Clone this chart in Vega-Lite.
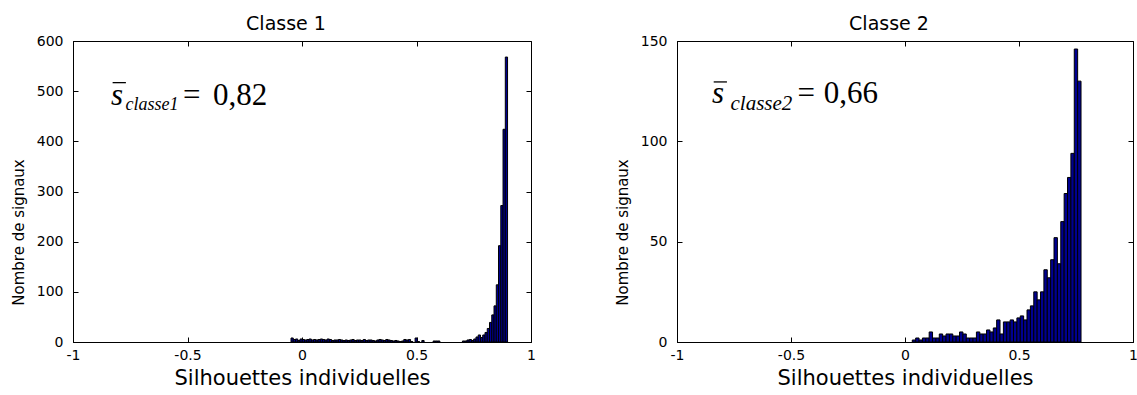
{
  "$schema": "https://vega.github.io/schema/vega-lite/v6.json",
  "background": "white",
  "padding": {"left": 10, "top": 14, "right": 0, "bottom": 0},
  "spacing": 78,
  "config": {
    "view": {"stroke": "#000", "strokeWidth": 1},
    "axis": {"grid": false, "domainColor": "#000", "tickColor": "#000", "labelColor": "#000", "titleColor": "#000", "labelFont": "DejaVu Sans", "labelFontSize": 14, "titleFont": "DejaVu Sans", "titleFontWeight": "normal", "tickSize": -5, "labelFlush": false},
    "title": {"font": "DejaVu Sans", "fontSize": 19, "fontWeight": "normal", "color": "#000"}
  },
  "datasets": {
    "c1": [
      {"lo":-0.048,"hi":-0.0382,"n":8},{"lo":-0.0382,"hi":-0.0283,"n":5},{"lo":-0.0283,"hi":-0.0185,"n":6},{"lo":-0.0185,"hi":-0.0086,"n":3},
      {"lo":-0.0086,"hi":0.0013,"n":6},{"lo":0.0013,"hi":0.0111,"n":5},{"lo":0.0111,"hi":0.021,"n":4},{"lo":0.021,"hi":0.0308,"n":5},
      {"lo":0.0308,"hi":0.0407,"n":6},{"lo":0.0407,"hi":0.0505,"n":4},{"lo":0.0505,"hi":0.0604,"n":5},{"lo":0.0604,"hi":0.0702,"n":4},
      {"lo":0.0702,"hi":0.0801,"n":5},{"lo":0.0801,"hi":0.0899,"n":6},{"lo":0.0899,"hi":0.0998,"n":5},{"lo":0.0998,"hi":0.1096,"n":4},
      {"lo":0.1096,"hi":0.1195,"n":6},{"lo":0.1195,"hi":0.1293,"n":5},{"lo":0.1293,"hi":0.1392,"n":3},{"lo":0.1392,"hi":0.149,"n":4},
      {"lo":0.149,"hi":0.1589,"n":4},{"lo":0.1589,"hi":0.1687,"n":5},{"lo":0.1687,"hi":0.1786,"n":4},{"lo":0.1786,"hi":0.1884,"n":3},
      {"lo":0.1884,"hi":0.1983,"n":4},{"lo":0.1983,"hi":0.2081,"n":3},{"lo":0.2081,"hi":0.218,"n":4},{"lo":0.218,"hi":0.2278,"n":5},
      {"lo":0.2278,"hi":0.2377,"n":3},{"lo":0.2377,"hi":0.2475,"n":4},{"lo":0.2475,"hi":0.2574,"n":4},{"lo":0.2574,"hi":0.2672,"n":3},
      {"lo":0.2672,"hi":0.2771,"n":5},{"lo":0.2771,"hi":0.2869,"n":3},{"lo":0.2869,"hi":0.2968,"n":4},{"lo":0.2968,"hi":0.3066,"n":4},
      {"lo":0.3066,"hi":0.3165,"n":3},{"lo":0.3165,"hi":0.3263,"n":2},{"lo":0.3263,"hi":0.3362,"n":4},{"lo":0.3362,"hi":0.346,"n":5},
      {"lo":0.346,"hi":0.3559,"n":4},{"lo":0.3559,"hi":0.3657,"n":3},{"lo":0.3657,"hi":0.3756,"n":5},{"lo":0.3756,"hi":0.3854,"n":4},
      {"lo":0.3854,"hi":0.3953,"n":3},{"lo":0.3953,"hi":0.4051,"n":2},{"lo":0.4051,"hi":0.415,"n":3},{"lo":0.415,"hi":0.4248,"n":2},
      {"lo":0.4248,"hi":0.4347,"n":1},{"lo":0.4347,"hi":0.4445,"n":2},{"lo":0.4445,"hi":0.4544,"n":5},{"lo":0.4544,"hi":0.4642,"n":4},
      {"lo":0.4642,"hi":0.4741,"n":5},{"lo":0.4741,"hi":0.4839,"n":1},{"lo":0.4938,"hi":0.5036,"n":8},{"lo":0.5036,"hi":0.5135,"n":1},
      {"lo":0.5233,"hi":0.5332,"n":3},{"lo":0.5726,"hi":0.5824,"n":2},{"lo":0.5824,"hi":0.5923,"n":2},{"lo":0.5923,"hi":0.6021,"n":2},
      {"lo":0.7006,"hi":0.7105,"n":2},{"lo":0.7105,"hi":0.7203,"n":2},{"lo":0.7203,"hi":0.7302,"n":4},{"lo":0.7302,"hi":0.74,"n":5},
      {"lo":0.74,"hi":0.7499,"n":3},{"lo":0.7499,"hi":0.7597,"n":6},{"lo":0.7597,"hi":0.7696,"n":10},{"lo":0.7696,"hi":0.7794,"n":14},
      {"lo":0.7794,"hi":0.7893,"n":9},{"lo":0.7893,"hi":0.7991,"n":14},{"lo":0.7991,"hi":0.809,"n":19},{"lo":0.809,"hi":0.8188,"n":27},
      {"lo":0.8188,"hi":0.8287,"n":39},{"lo":0.8287,"hi":0.8385,"n":54},{"lo":0.8385,"hi":0.8484,"n":72},{"lo":0.8484,"hi":0.8582,"n":114},
      {"lo":0.8582,"hi":0.8681,"n":192},{"lo":0.8681,"hi":0.8779,"n":272},{"lo":0.8779,"hi":0.8878,"n":424},{"lo":0.8878,"hi":0.8976,"n":568}
    ],
    "c2": [
      {"lo":0.032,"hi":0.0468,"n":1},{"lo":0.0468,"hi":0.0616,"n":2},{"lo":0.0616,"hi":0.0764,"n":1},{"lo":0.0764,"hi":0.0912,"n":2},
      {"lo":0.0912,"hi":0.106,"n":2},{"lo":0.106,"hi":0.1208,"n":5},{"lo":0.1208,"hi":0.1356,"n":2},{"lo":0.1356,"hi":0.1504,"n":2},
      {"lo":0.1504,"hi":0.1652,"n":4},{"lo":0.1652,"hi":0.18,"n":3},{"lo":0.18,"hi":0.1948,"n":4},{"lo":0.1948,"hi":0.2096,"n":4},
      {"lo":0.2096,"hi":0.2244,"n":3},{"lo":0.2244,"hi":0.2392,"n":3},{"lo":0.2392,"hi":0.254,"n":5},{"lo":0.254,"hi":0.2688,"n":4},
      {"lo":0.2688,"hi":0.2836,"n":2},{"lo":0.2836,"hi":0.2984,"n":2},{"lo":0.2984,"hi":0.3132,"n":2},{"lo":0.3132,"hi":0.328,"n":5},
      {"lo":0.328,"hi":0.3428,"n":4},{"lo":0.3428,"hi":0.3576,"n":4},{"lo":0.3576,"hi":0.3724,"n":6},{"lo":0.3724,"hi":0.3872,"n":5},
      {"lo":0.3872,"hi":0.402,"n":7},{"lo":0.402,"hi":0.4168,"n":11},{"lo":0.4168,"hi":0.4316,"n":4},{"lo":0.4316,"hi":0.4464,"n":10},
      {"lo":0.4464,"hi":0.4612,"n":10},{"lo":0.4612,"hi":0.476,"n":11},{"lo":0.476,"hi":0.4908,"n":10},{"lo":0.4908,"hi":0.5056,"n":12},
      {"lo":0.5056,"hi":0.5204,"n":13},{"lo":0.5204,"hi":0.5352,"n":11},{"lo":0.5352,"hi":0.55,"n":16},{"lo":0.55,"hi":0.5648,"n":18},
      {"lo":0.5648,"hi":0.5796,"n":25},{"lo":0.5796,"hi":0.5944,"n":21},{"lo":0.5944,"hi":0.6092,"n":25},{"lo":0.6092,"hi":0.624,"n":36},
      {"lo":0.624,"hi":0.6388,"n":32},{"lo":0.6388,"hi":0.6536,"n":41},{"lo":0.6536,"hi":0.6684,"n":52},{"lo":0.6684,"hi":0.6832,"n":39},
      {"lo":0.6832,"hi":0.698,"n":60},{"lo":0.698,"hi":0.7128,"n":74},{"lo":0.7128,"hi":0.7276,"n":82},{"lo":0.7276,"hi":0.7424,"n":94},
      {"lo":0.7424,"hi":0.7572,"n":146},{"lo":0.7572,"hi":0.772,"n":130}
    ]
  },
  "hconcat": [
    {
      "width": 458, "height": 301,
      "title": {"text": "Classe 1", "frame": "group", "dx": -16, "baseline": "alphabetic", "offset": -15},
      "layer": [
        {
          "data": {"name": "c1"},
          "mark": {"type": "bar", "fill": "#000090", "stroke": "#000", "strokeWidth": 1},
          "encoding": {
            "x": {"field": "lo", "type": "quantitative", "scale": {"domain": [-1, 1], "nice": false, "zero": false},
                  "axis": {"values": [-1, -0.5, 0, 0.5, 1], "labelExpr": "'' + datum.value", "labelPadding": 11, "title": "Silhouettes individuelles", "titleFontSize": 21, "titleY": 42.5, "titleBaseline": "alphabetic"}},
            "x2": {"field": "hi"},
            "y": {"field": "n", "type": "quantitative", "scale": {"domain": [0, 600], "nice": false},
                  "axis": {"values": [0, 100, 200, 300, 400, 500, 600], "labelPadding": 15, "title": "Nombre de signaux", "titleFontSize": 15, "titleX": -55, "titleY": 191, "titleAngle": 270, "titleBaseline": "middle", "titleAlign": "center"}},
            "y2": {"datum": 0}
          }
        },
        {
          "data": {"values": [{}]},
          "mark": {"type": "point", "opacity": 0},
          "encoding": {
            "x": {"datum": 0, "type": "quantitative", "axis": {"orient": "top", "values": [-1, -0.5, 0, 0.5, 1], "labels": false, "domain": false, "title": null, "minExtent": 0, "maxExtent": 0}},
            "y": {"datum": 0, "type": "quantitative", "axis": {"orient": "right", "values": [0, 100, 200, 300, 400, 500, 600], "labels": false, "domain": false, "title": null, "minExtent": 0, "maxExtent": 0}}
          }
        },
        {
          "data": {"values": [{}]},
          "mark": {"type": "rule", "stroke": "#000", "strokeWidth": 1.3},
          "encoding": {"x": {"datum": -0.827, "type": "quantitative", "axis": null}, "x2": {"datum": -0.769}, "y": {"datum": 517, "type": "quantitative", "axis": null}}
        },
        {
          "data": {"values": [{}]},
          "mark": {"type": "text", "font": "Liberation Serif", "fontStyle": "italic", "fontSize": 31, "align": "left", "baseline": "alphabetic", "color": "#000"},
          "encoding": {"x": {"datum": -0.834, "type": "quantitative", "axis": null}, "y": {"datum": 473, "type": "quantitative", "axis": null}, "text": {"value": "s"}}
        },
        {
          "data": {"values": [{}]},
          "mark": {"type": "text", "font": "Liberation Serif", "fontStyle": "italic", "fontSize": 18, "align": "left", "baseline": "alphabetic", "color": "#000"},
          "encoding": {"x": {"datum": -0.771, "type": "quantitative", "axis": null}, "y": {"datum": 461.7, "type": "quantitative", "axis": null}, "text": {"value": "classe1"}}
        },
        {
          "data": {"values": [{}]},
          "mark": {"type": "text", "font": "Liberation Serif", "fontSize": 31, "align": "left", "baseline": "alphabetic", "color": "#000"},
          "encoding": {"x": {"datum": -0.52, "type": "quantitative", "axis": null}, "y": {"datum": 473, "type": "quantitative", "axis": null}, "text": {"value": "="}}
        },
        {
          "data": {"values": [{}]},
          "mark": {"type": "text", "font": "Liberation Serif", "fontSize": 31, "align": "left", "baseline": "alphabetic", "color": "#000"},
          "encoding": {"x": {"datum": -0.389, "type": "quantitative", "axis": null}, "y": {"datum": 473, "type": "quantitative", "axis": null}, "text": {"value": "0,82"}}
        }
      ],
      "resolve": {"axis": {"x": "independent", "y": "independent"}}
    },
    {
      "width": 456, "height": 301,
      "title": {"text": "Classe 2", "frame": "group", "dx": -16, "baseline": "alphabetic", "offset": -15},
      "layer": [
        {
          "data": {"name": "c2"},
          "mark": {"type": "bar", "fill": "#000090", "stroke": "#000", "strokeWidth": 1},
          "encoding": {
            "x": {"field": "lo", "type": "quantitative", "scale": {"domain": [-1, 1], "nice": false, "zero": false},
                  "axis": {"values": [-1, -0.5, 0, 0.5, 1], "labelExpr": "'' + datum.value", "labelPadding": 11, "title": "Silhouettes individuelles", "titleFontSize": 21, "titleY": 42.5, "titleBaseline": "alphabetic"}},
            "x2": {"field": "hi"},
            "y": {"field": "n", "type": "quantitative", "scale": {"domain": [0, 150], "nice": false},
                  "axis": {"values": [0, 50, 100, 150], "labelPadding": 15, "title": "Nombre de signaux", "titleFontSize": 15, "titleX": -55, "titleY": 191, "titleAngle": 270, "titleBaseline": "middle", "titleAlign": "center"}},
            "y2": {"datum": 0}
          }
        },
        {
          "data": {"values": [{}]},
          "mark": {"type": "point", "opacity": 0},
          "encoding": {
            "x": {"datum": 0, "type": "quantitative", "axis": {"orient": "top", "values": [-1, -0.5, 0, 0.5, 1], "labels": false, "domain": false, "title": null, "minExtent": 0, "maxExtent": 0}},
            "y": {"datum": 0, "type": "quantitative", "axis": {"orient": "right", "values": [0, 50, 100, 150], "labels": false, "domain": false, "title": null, "minExtent": 0, "maxExtent": 0}}
          }
        },
        {
          "data": {"values": [{}]},
          "mark": {"type": "rule", "stroke": "#000", "strokeWidth": 1.3},
          "encoding": {"x": {"datum": -0.839, "type": "quantitative", "axis": null}, "x2": {"datum": -0.781}, "y": {"datum": 129.6, "type": "quantitative", "axis": null}}
        },
        {
          "data": {"values": [{}]},
          "mark": {"type": "text", "font": "Liberation Serif", "fontStyle": "italic", "fontSize": 31, "align": "left", "baseline": "alphabetic", "color": "#000"},
          "encoding": {"x": {"datum": -0.8465, "type": "quantitative", "axis": null}, "y": {"datum": 119.3, "type": "quantitative", "axis": null}, "text": {"value": "s"}}
        },
        {
          "data": {"values": [{}]},
          "mark": {"type": "text", "font": "Liberation Serif", "fontStyle": "italic", "fontSize": 21, "align": "left", "baseline": "alphabetic", "color": "#000"},
          "encoding": {"x": {"datum": -0.7654, "type": "quantitative", "axis": null}, "y": {"datum": 115.4, "type": "quantitative", "axis": null}, "text": {"value": "classe2"}}
        },
        {
          "data": {"values": [{}]},
          "mark": {"type": "text", "font": "Liberation Serif", "fontSize": 31, "align": "left", "baseline": "alphabetic", "color": "#000"},
          "encoding": {"x": {"datum": -0.4715, "type": "quantitative", "axis": null}, "y": {"datum": 119.3, "type": "quantitative", "axis": null}, "text": {"value": "="}}
        },
        {
          "data": {"values": [{}]},
          "mark": {"type": "text", "font": "Liberation Serif", "fontSize": 31, "align": "left", "baseline": "alphabetic", "color": "#000"},
          "encoding": {"x": {"datum": -0.3566, "type": "quantitative", "axis": null}, "y": {"datum": 119.3, "type": "quantitative", "axis": null}, "text": {"value": "0,66"}}
        }
      ],
      "resolve": {"axis": {"x": "independent", "y": "independent"}}
    }
  ]
}
